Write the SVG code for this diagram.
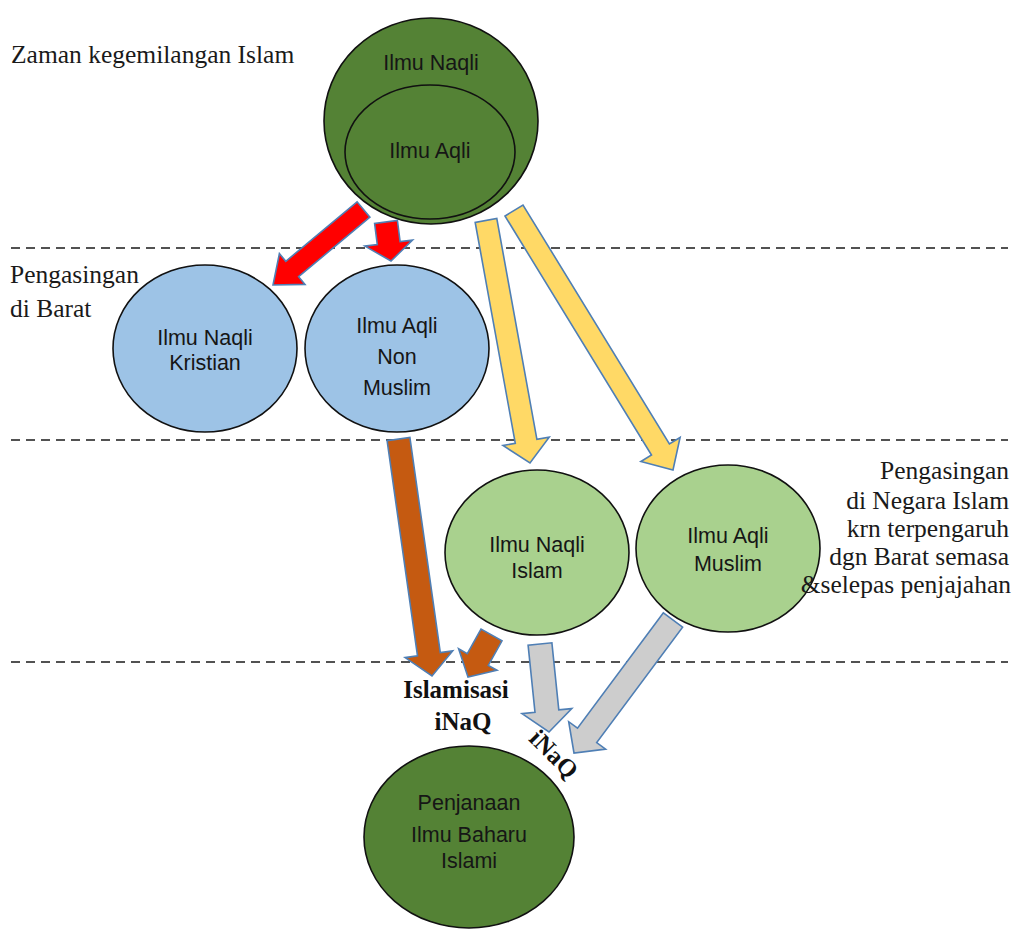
<svg xmlns="http://www.w3.org/2000/svg" width="1016" height="933" viewBox="0 0 1016 933">
<style>
.bg{fill:#ffffff}
.guide{stroke:#1a1a1a;stroke-width:1.5;stroke-dasharray:9 6;fill:none}
.node{stroke:#111;stroke-width:1.6}
.dg{fill:#548235}
.lb{fill:#9DC3E6}
.lg{fill:#A9D18E}
.nt{font-family:"Liberation Sans",Arial,sans-serif;font-size:21.5px;fill:#161616;text-anchor:middle}
.lab{font-family:"Liberation Serif","Times New Roman",serif;font-size:25.5px;fill:#1a1a1a}
.bold{font-family:"Liberation Serif","Times New Roman",serif;font-size:25px;font-weight:bold;fill:#111;text-anchor:middle}
.arr{stroke:#4F7FB5;stroke-width:1.6;stroke-linejoin:miter}
.red{fill:#FF0000}
.yel{fill:#FFD966}
.brn{fill:#C55A11}
.gry{fill:#CDCDCD}
</style>
<rect class="bg" x="0" y="0" width="1016" height="933"/>

<g id="guides">
<line class="guide" x1="11" y1="248" x2="1008" y2="248"/>
<line class="guide" x1="11" y1="440" x2="1008" y2="440"/>
<line class="guide" x1="11" y1="662" x2="1008" y2="662"/>
</g>

<g id="connectors">
<polygon class="arr red" points="357.1,201.8 285.8,261.3 279.4,253.6 273,285 305.0,284.4 298.6,276.7 369.9,217.2"/>
<polygon class="arr red" points="374.6,223.5 377.3,244.6 364.9,246.1 391,261 412.5,240.1 400.1,241.6 397.4,220.5"/>
<polygon class="arr yel" points="475.2,222.5 515.3,443.3 503.0,445.5 530,463 549.2,437.2 536.9,439.4 496.8,218.5"/>
<polygon class="arr yel" points="505.0,216.0 651.5,455.0 640.9,461.5 673,470 680.1,437.5 669.4,444.0 523.0,205.0"/>
<polygon class="arr brn" points="387.1,440.6 417.5,655.8 405.1,657.6 432,676 452.7,650.9 440.3,652.6 409.9,437.4"/>
<polygon class="arr brn" points="481.0,629.1 467.3,653.7 458.6,648.8 468,677 497.0,670.3 488.3,665.4 502.0,640.9"/>
<polygon class="arr gry" points="528.1,645.2 535.0,712.3 522.0,713.6 549,732 571.8,708.6 558.8,709.9 551.9,642.8"/>
<polygon class="arr gry" points="663.4,612.8 577.5,728.2 568.7,721.7 574,753 605.6,749.1 596.7,742.6 682.6,627.2"/>
</g>

<g id="node-zaman">
<ellipse class="node dg" cx="431" cy="121" rx="107" ry="103"/>
<text class="nt" x="431" y="70">Ilmu Naqli</text>
<ellipse class="node dg" cx="430" cy="152" rx="85" ry="67"/>
<text class="nt" x="430" y="158">Ilmu Aqli</text>
</g>

<g id="node-naqli-kristian">
<ellipse class="node lb" cx="205" cy="348.5" rx="92" ry="83.5"/>
<text class="nt" x="205" y="345">Ilmu Naqli</text>
<text class="nt" x="205" y="370">Kristian</text>
</g>

<g id="node-aqli-nonmuslim">
<ellipse class="node lb" cx="397" cy="348.5" rx="92" ry="83.5"/>
<text class="nt" x="397" y="333">Ilmu Aqli</text>
<text class="nt" x="397" y="364">Non</text>
<text class="nt" x="397" y="395">Muslim</text>
</g>

<g id="node-naqli-islam">
<ellipse class="node lg" cx="537" cy="552.5" rx="92" ry="82.5"/>
<text class="nt" x="537" y="552">Ilmu Naqli</text>
<text class="nt" x="537" y="578">Islam</text>
</g>

<g id="node-aqli-muslim">
<ellipse class="node lg" cx="728" cy="548.5" rx="92" ry="83.5"/>
<text class="nt" x="728" y="543">Ilmu Aqli</text>
<text class="nt" x="728" y="571">Muslim</text>
</g>

<g id="node-penjanaan">
<ellipse class="node dg" cx="469" cy="837" rx="105" ry="91"/>
<text class="nt" x="469" y="810">Penjanaan</text>
<text class="nt" x="469" y="842">Ilmu Baharu</text>
<text class="nt" x="469" y="868">Islami</text>
</g>

<g id="labels">
<text class="lab" x="11" y="63">Zaman kegemilangan Islam</text>
<text class="lab" x="10" y="283">Pengasingan</text>
<text class="lab" x="10" y="317">di Barat</text>
<text class="lab" x="1009" y="479" text-anchor="end">Pengasingan</text>
<text class="lab" x="1009" y="509" text-anchor="end">di Negara Islam</text>
<text class="lab" x="1009" y="537" text-anchor="end">krn terpengaruh</text>
<text class="lab" x="1009" y="565" text-anchor="end">dgn Barat semasa</text>
<text class="lab" x="1011" y="593" text-anchor="end">&amp;selepas penjajahan</text>
<text class="bold" x="456" y="698">Islamisasi</text>
<text class="bold" x="463" y="730">iNaQ</text>
<text class="bold" transform="translate(548,760) rotate(45)" x="0" y="0">iNaQ</text>
</g>
</svg>
